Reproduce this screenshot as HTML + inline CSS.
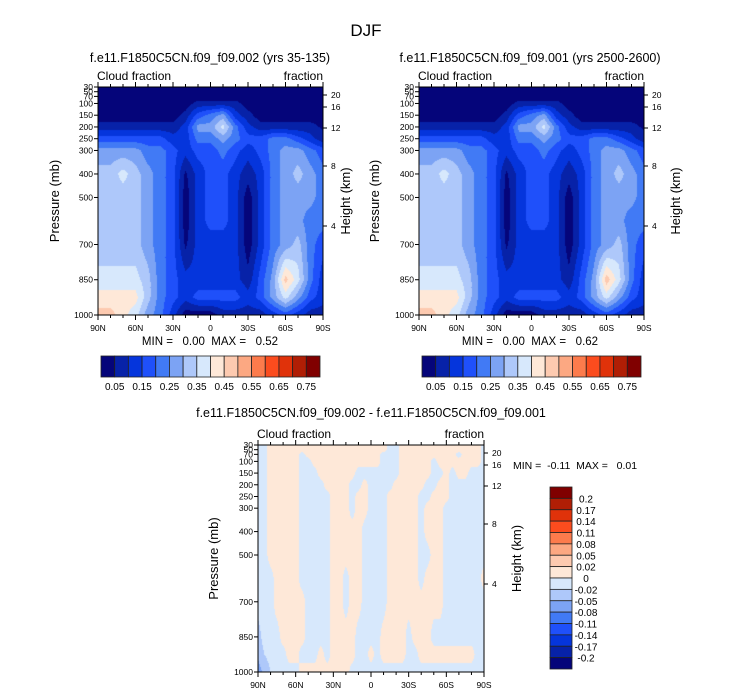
<!DOCTYPE html>
<html><head><meta charset="utf-8">
<style>
html,body{margin:0;padding:0;background:#fff;}
#root{position:relative;width:733px;height:696px;overflow:hidden;font-family:"Liberation Sans",sans-serif;}
canvas{position:absolute;}
svg{position:absolute;left:0;top:0;}
</style></head>
<body>
<div id="root">
<canvas id="c1"></canvas>
<canvas id="c2"></canvas>
<canvas id="c3"></canvas>
<svg id="ov" width="733" height="696" xmlns="http://www.w3.org/2000/svg"></svg>
</div>
<script>
// ---- data ----
const pressureLevels = [30,50,70,100,150,200,250,300,400,500,600,700,850,925,1000];
const lats19 = [90,80,70,60,50,40,30,20,10,0,-10,-20,-30,-40,-50,-60,-70,-80,-90];
const lats37 = [90,85,80,75,70,65,60,55,50,45,40,35,30,25,20,15,10,5,0,-5,-10,-15,-20,-25,-30,-35,-40,-45,-50,-55,-60,-65,-70,-75,-80,-85,-90];
const cloud1 = [
[0.02,0.02,0.02,0.02,0.02,0.02,0.02,0.02,0.02,0.02,0.02,0.02,0.02,0.02,0.02,0.02,0.02,0.02,0.02],
[0.02,0.02,0.02,0.02,0.02,0.02,0.02,0.02,0.02,0.02,0.02,0.02,0.02,0.02,0.02,0.02,0.02,0.02,0.02],
[0.02,0.02,0.02,0.02,0.02,0.02,0.02,0.02,0.02,0.02,0.02,0.02,0.02,0.02,0.02,0.02,0.02,0.02,0.02],
[0.02,0.02,0.02,0.02,0.02,0.02,0.02,0.02,0.07,0.07,0.07,0.07,0.02,0.02,0.02,0.02,0.02,0.02,0.02],
[0.02,0.02,0.02,0.02,0.02,0.02,0.02,0.07,0.17,0.22,0.27,0.12,0.07,0.02,0.02,0.02,0.02,0.02,0.02],
[0.07,0.07,0.07,0.07,0.07,0.07,0.07,0.12,0.27,0.27,0.37,0.22,0.12,0.07,0.07,0.07,0.07,0.07,0.04],
[0.17,0.17,0.17,0.17,0.17,0.17,0.12,0.12,0.22,0.22,0.27,0.22,0.17,0.17,0.22,0.22,0.17,0.12,0.07],
[0.27,0.27,0.27,0.27,0.22,0.22,0.17,0.12,0.17,0.17,0.22,0.17,0.12,0.17,0.22,0.27,0.27,0.22,0.17],
[0.32,0.32,0.37,0.32,0.27,0.22,0.17,0.04,0.12,0.17,0.17,0.12,0.07,0.12,0.22,0.27,0.32,0.27,0.22],
[0.32,0.32,0.32,0.32,0.27,0.22,0.17,0.02,0.12,0.17,0.17,0.12,0.02,0.12,0.22,0.27,0.27,0.27,0.22],
[0.32,0.32,0.32,0.32,0.27,0.22,0.17,0.02,0.12,0.17,0.17,0.12,0.02,0.12,0.22,0.27,0.27,0.22,0.22],
[0.32,0.32,0.32,0.32,0.27,0.22,0.17,0.04,0.12,0.12,0.12,0.12,0.02,0.12,0.22,0.27,0.32,0.22,0.17],
[0.37,0.37,0.37,0.37,0.32,0.22,0.17,0.12,0.12,0.12,0.12,0.12,0.07,0.17,0.27,0.47,0.37,0.22,0.12],
[0.42,0.42,0.42,0.42,0.32,0.22,0.17,0.12,0.17,0.17,0.17,0.17,0.12,0.17,0.27,0.37,0.27,0.17,0.12],
[0.47,0.47,0.42,0.37,0.27,0.22,0.12,0.02,0.02,0.02,0.07,0.07,0.07,0.07,0.12,0.17,0.12,0.07,0.07]
];
const cloud2 = [
[0.02,0.02,0.02,0.02,0.02,0.02,0.02,0.02,0.02,0.02,0.02,0.02,0.02,0.02,0.02,0.02,0.02,0.02,0.02],
[0.02,0.02,0.02,0.02,0.02,0.02,0.02,0.02,0.02,0.02,0.02,0.02,0.02,0.02,0.02,0.02,0.02,0.02,0.02],
[0.02,0.02,0.02,0.02,0.02,0.02,0.02,0.02,0.02,0.02,0.02,0.02,0.02,0.02,0.02,0.02,0.02,0.02,0.02],
[0.02,0.02,0.02,0.02,0.02,0.02,0.02,0.02,0.07,0.07,0.07,0.07,0.02,0.02,0.02,0.02,0.02,0.02,0.02],
[0.02,0.02,0.02,0.02,0.02,0.02,0.02,0.07,0.17,0.22,0.27,0.12,0.07,0.02,0.02,0.02,0.02,0.02,0.02],
[0.07,0.07,0.07,0.07,0.07,0.07,0.07,0.12,0.27,0.27,0.37,0.22,0.12,0.07,0.07,0.07,0.07,0.07,0.04],
[0.17,0.17,0.17,0.17,0.17,0.17,0.12,0.12,0.22,0.22,0.27,0.22,0.17,0.17,0.22,0.22,0.17,0.12,0.07],
[0.27,0.27,0.27,0.27,0.22,0.22,0.17,0.12,0.17,0.17,0.22,0.17,0.12,0.17,0.22,0.27,0.27,0.22,0.17],
[0.32,0.32,0.37,0.32,0.27,0.22,0.17,0.04,0.12,0.17,0.17,0.12,0.07,0.12,0.22,0.27,0.32,0.27,0.22],
[0.32,0.32,0.32,0.32,0.27,0.22,0.17,0.02,0.12,0.17,0.17,0.12,0.02,0.12,0.22,0.27,0.27,0.27,0.22],
[0.32,0.32,0.32,0.32,0.27,0.22,0.17,0.02,0.12,0.17,0.17,0.12,0.02,0.12,0.22,0.27,0.27,0.22,0.22],
[0.32,0.32,0.32,0.32,0.27,0.22,0.17,0.04,0.12,0.12,0.12,0.12,0.02,0.12,0.22,0.27,0.32,0.22,0.17],
[0.37,0.37,0.37,0.37,0.32,0.22,0.17,0.12,0.12,0.12,0.12,0.12,0.07,0.17,0.27,0.48,0.37,0.22,0.12],
[0.42,0.42,0.42,0.42,0.32,0.22,0.17,0.12,0.17,0.17,0.17,0.17,0.12,0.17,0.27,0.37,0.27,0.17,0.12],
[0.47,0.47,0.42,0.37,0.27,0.22,0.12,0.02,0.02,0.02,0.07,0.07,0.07,0.07,0.12,0.17,0.12,0.07,0.07]
];
// difference in hundredths
const diffHundredths = [
[-1,-1,1,1,1,1,1,1,1,1,1,1,1,1,1,1,1,1,1,1,1,-1,-1,1,1,1,1,1,1,1,1,1,1,1,1,1,-1],
[-1,-1,1,1,1,1,1,1,1,1,1,1,1,1,1,1,1,1,1,1,1,-1,-1,1,1,1,1,1,1,1,1,1,1,1,1,1,-1],
[-1,-1,1,1,1,1,1,-1,1,1,1,1,1,1,1,1,1,1,1,1,-1,-1,-1,1,1,1,1,1,1,1,1,1,-1,1,1,1,-1],
[-1,-1,1,1,1,1,1,-1,-1,1,1,1,1,1,1,1,1,1,1,1,-1,-1,-1,1,1,1,1,1,-1,1,1,1,1,1,1,1,-1],
[-1,-1,1,1,1,1,1,-1,-1,-1,1,1,1,1,1,1,-1,-1,-1,-1,-1,-1,-1,1,1,1,1,1,-1,-1,1,-1,1,1,-1,-1,-1],
[-1,-1,1,1,1,1,1,-1,-1,-1,-1,1,1,1,1,-1,-1,1,-1,-1,-1,-1,1,1,1,1,1,-1,-1,1,1,-1,-1,-1,-1,-1,-1],
[-1,-1,1,1,1,1,1,-1,-1,-1,-1,-1,1,1,1,-1,1,1,-1,-1,-1,1,1,1,1,1,-1,-1,1,1,1,-1,-1,-1,-1,-1,-1],
[-1,-1,1,1,1,1,1,-1,-1,-1,-1,-1,1,1,1,-1,1,1,-1,-1,-1,1,1,1,1,1,-1,1,1,1,-1,-1,-1,-1,-1,-1,-1],
[-1,-1,1,1,1,1,1,-1,-1,-1,-1,-1,1,1,1,1,1,-1,-1,-1,-1,1,1,1,1,1,-1,1,1,1,-1,-1,-1,-1,-1,-1,-1],
[-1,-1,1,1,1,1,1,-1,-1,-1,-1,-1,1,1,1,1,1,-1,-1,-1,-1,1,1,1,1,1,-1,-1,1,1,-1,-1,-1,-1,-1,-1,-1],
[-1,-1,-1,1,1,1,1,-1,-1,-1,-1,-1,1,1,-1,1,1,-1,-1,-1,-1,1,1,1,1,1,-1,1,1,1,-1,-1,-1,-1,-1,-1,1],
[-1,-1,-1,1,1,1,1,1,-1,-1,-1,-1,1,1,-1,1,1,-1,-1,-1,-1,1,1,1,1,1,1,1,1,1,-1,-1,-1,-1,-1,-1,-1],
[-3,-1,-1,-1,1,1,1,1,-1,-1,-1,-1,1,1,1,1,-1,-1,-1,-1,1,1,1,1,-1,1,1,1,-1,-1,-1,-1,-1,-1,-1,-1,-1],
[-4,-2,-1,-1,-1,1,1,-1,-1,-1,1,-1,1,1,1,1,-1,-1,1,-1,1,1,1,1,-1,-1,1,1,1,1,1,1,1,1,1,-1,-1],
[-7,-4,-2,-1,-1,-1,-1,1,1,1,1,1,1,1,1,-1,-1,-1,-1,-1,-1,-1,-1,-1,-1,-1,-1,-1,-1,-1,-1,-1,-1,-1,-1,-1,-1]
];
const cloudBounds = [0.05,0.1,0.15,0.2,0.25,0.3,0.35,0.4,0.45,0.5,0.55,0.6,0.65,0.7,0.75];
const cloudTickLabels = ["0.05","0.15","0.25","0.35","0.45","0.55","0.65","0.75"];
const diffBounds = [-0.2,-0.17,-0.14,-0.11,-0.08,-0.05,-0.02,0,0.02,0.05,0.08,0.11,0.14,0.17,0.2];
const diffTickLabels = ["0.2","0.17","0.14","0.11","0.08","0.05","0.02","0","-0.02","-0.05","-0.08","-0.11","-0.14","-0.17","-0.2"];
const palette = ["#05057a","#0722a8","#0535dc","#1f50fa","#417af5","#7ca3f4","#aec8fa","#d7e8fc","#fee8d8","#fdcab0","#fca882","#fc7b4c","#fb4c1e","#e0320a","#b01e05","#800000"];
const pTicks = [30,50,70,100,150,200,250,300,400,500,700,850,1000];
const hTicks = [[20,8],[16,20],[12,41],[8,79],[4,139]]; // km, offset from plot top (px)
const latTicks = [90,60,30,0,-30,-60,-90];
const latLabels = ["90N","60N","30N","0","30S","60S","90S"];

const NS="http://www.w3.org/2000/svg";
const ov=document.getElementById('ov');
function el(tag,attrs,parent){const e=document.createElementNS(NS,tag);for(const k in attrs)e.setAttribute(k,attrs[k]);(parent||ov).appendChild(e);return e;}
function txt(s,x,y,size,anchor,name,extra){const t=el('text',Object.assign({x:x,y:y,'font-size':size,'text-anchor':anchor||'start',fill:'#000','font-family':'Liberation Sans, sans-serif'},extra||{}));t.textContent=s;return t;}
function hex(c){return [parseInt(c.slice(1,3),16),parseInt(c.slice(3,5),16),parseInt(c.slice(5,7),16)];}
function classify(v,b){let i=0;while(i<b.length&&v>=b[i])i++;return i;}

function drawField(cid,ox,oy,w,h,lats,grid,bounds,scale){
  const c=document.getElementById(cid);c.width=w;c.height=h;c.style.left=ox+'px';c.style.top=oy+'px';
  const ctx=c.getContext('2d');const img=ctx.createImageData(w,h);
  const rgb=palette.map(hex);const nc=lats.length;
  for(let py=0;py<h;py++){
    const p=30+(py+0.5)/h*970;
    let r=0;while(r<pressureLevels.length-2&&p>pressureLevels[r+1])r++;
    const fy=(p-pressureLevels[r])/(pressureLevels[r+1]-pressureLevels[r]);
    for(let px=0;px<w;px++){
      const lat=90-(px+0.5)/w*180;
      let ci=0;while(ci<nc-2&&lat<lats[ci+1])ci++;
      const fx=(lats[ci]-lat)/(lats[ci]-lats[ci+1]);
      const v=((grid[r][ci]*(1-fx)+grid[r][ci+1]*fx)*(1-fy)+(grid[r+1][ci]*(1-fx)+grid[r+1][ci+1]*fx)*fy)*scale;
      const col=rgb[classify(v,bounds)];const k=(py*w+px)*4;
      img.data[k]=col[0];img.data[k+1]=col[1];img.data[k+2]=col[2];img.data[k+3]=255;
    }
  }
  ctx.putImageData(img,0,0);
}

function drawAxes(ox,oy,w,h,prefix,rightTitleX,leftTitleX){
  const g=el('g',{});
  
  el('rect',{x:ox,y:oy,width:w,height:h,fill:'none',stroke:'#000','stroke-width':1},g);
  const yOf=p=>oy+h*(p-30)/970, xOf=l=>ox+w*(90-l)/180;
  pTicks.forEach(p=>{const y=yOf(p);el('line',{x1:ox-4,x2:ox,y1:y,y2:y,stroke:'#000'},g);
    txt(String(p),ox-5,y+3,8.5,'end',prefix+'-pressure-tick-'+p);});
  hTicks.forEach(t=>{const y=oy+t[1];el('line',{x1:ox+w,x2:ox+w+4,y1:y,y2:y,stroke:'#000'},g);
    txt(String(t[0]),ox+w+8,y+3,8.5,'start',prefix+'-height-tick-'+t[0]);});
  for(let l=90;l>=-90;l-=10){const x=xOf(l);const major=l%30===0;const L=major?5:3;
    el('line',{x1:x,x2:x,y1:oy+h,y2:oy+h+L,stroke:'#000'},g);el('line',{x1:x,x2:x,y1:oy-L,y2:oy,stroke:'#000'},g);}
  latTicks.forEach((l,i)=>txt(latLabels[i],xOf(l),oy+h+16,8.5,'middle',prefix+'-lat-tick-'+latLabels[i]));
  txt('Cloud fraction',ox-1,oy-7,12,'start',prefix+'-left-string');
  txt('fraction',ox+w,oy-7,12,'end',prefix+'-right-string');
  const cy=oy+h/2;
  txt('Pressure (mb)',leftTitleX,cy,13,'middle',prefix+'-y-axis-title',{transform:'rotate(-90 '+leftTitleX+' '+cy+')'});
  txt('Height (km)',rightTitleX,cy,13,'middle',prefix+'-right-axis-title',{transform:'rotate(-90 '+rightTitleX+' '+cy+')'});
}

function hColorbar(x,y,w,h,prefix){
  const g=el('g',{});
  const bw=w/palette.length;
  palette.forEach((c,i)=>{const r=el('rect',{x:x+i*bw,y:y,width:bw,height:h,fill:c,stroke:'#222','stroke-width':0.8},g);
    });
  cloudTickLabels.forEach((s,i)=>txt(s,x+(2*i+1)*bw,y+h+13,10,'middle',prefix+'-colorbar-label-'+s));
}
const NB='\u00a0';
// title
txt('DJF',366,36,17,'middle','figure-title');
// panel 1
txt('f.e11.F1850C5CN.f09_f09.002 (yrs 35-135)',210,62,12.5,'middle','panel1-title');
drawField('c1',98,87,225,228,lats19,cloud1,cloudBounds,1);
drawAxes(98,87,225,228,'panel1',350,59);
txt('MIN ='+NB+NB+' 0.00'+NB+' MAX ='+NB+NB+' 0.52',210,345,11.5,'middle','panel1-minmax');
hColorbar(101,356,219,21,'panel1');
// panel 2
txt('f.e11.F1850C5CN.f09_f09.001 (yrs 2500-2600)',530,62,12.5,'middle','panel2-title');
drawField('c2',419,87,225,228,lats19,cloud2,cloudBounds,1);
drawAxes(419,87,225,228,'panel2',680,379);
txt('MIN ='+NB+NB+' 0.00'+NB+' MAX ='+NB+NB+' 0.62',530,345,11.5,'middle','panel2-minmax');
hColorbar(422,356,219,21,'panel2');
// panel 3
txt('f.e11.F1850C5CN.f09_f09.002 - f.e11.F1850C5CN.f09_f09.001',371,417,12.5,'middle','panel3-title');
drawField('c3',258,445,226,227,lats37,diffHundredths,diffBounds,0.01);
drawAxes(258,445,226,227,'panel3',521,218);
txt('MIN ='+NB+' -0.11'+NB+' MAX ='+NB+NB+' 0.01',513,469,10.5,'start','panel3-minmax');
(function(){
  const x=550,y=487,w=22,h=182,bh=h/palette.length;
  const g=el('g',{});
  const rev=palette.slice().reverse();
  rev.forEach((c,i)=>{const r=el('rect',{x:x,y:y+i*bh,width:w,height:bh,fill:c,stroke:'#222','stroke-width':0.8},g);
    });
  diffTickLabels.forEach((s,i)=>txt(s,x+w+14,y+(i+1)*bh+4,10,'middle','panel3-colorbar-label-'+s));
})();
</script>
</body></html>
